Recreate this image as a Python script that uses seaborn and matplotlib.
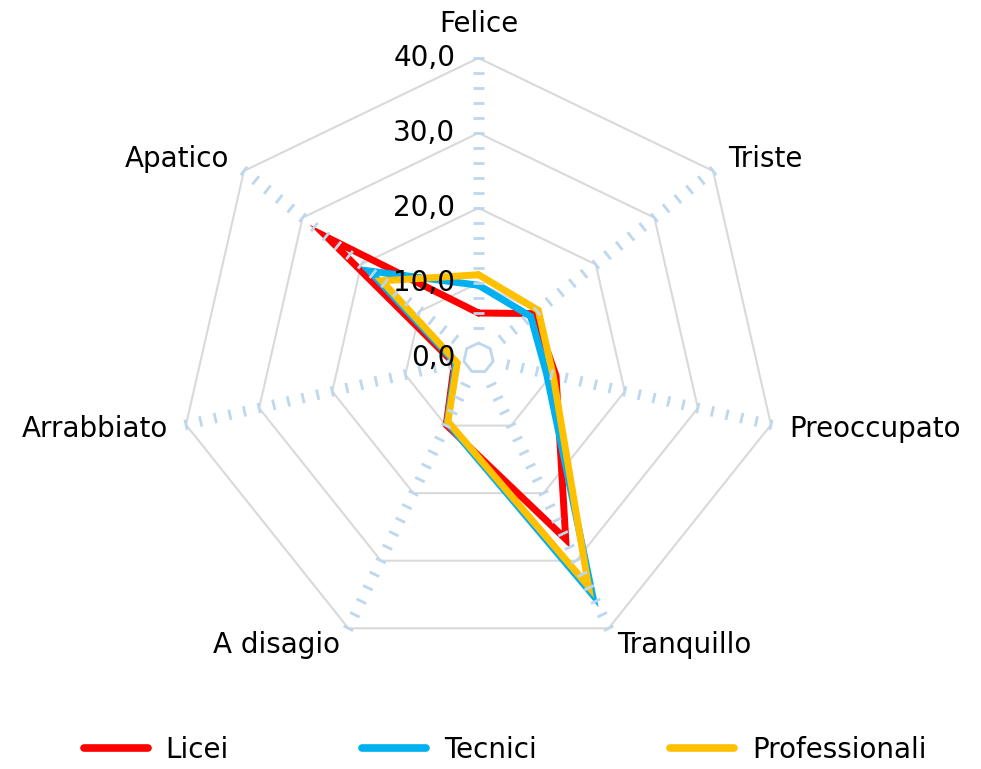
import numpy as np
import pandas as pd
import seaborn as sns
from matplotlib import pyplot as plt
from matplotlib.lines import Line2D

categories = ['Felice', 'Triste', 'Preoccupato', 'Tranquillo', 'A disagio', 'Arrabbiato', 'Apatico']
licei = [6.0, 9.5, 10.6, 26.8, 9.9, 3.3, 25.8]
tecnici = [9.7, 8.9, 9.3, 35.0, 9.6, 3.1, 18.6]
professionali = [11.1, 10.2, 10.2, 33.8, 9.4, 2.9, 16.5]
series_names = ['Licei', 'Tecnici', 'Professionali']
series_colors = ['#ff0000', '#00b0f0', '#ffc000']
major_ticks = [0, 10, 20, 30, 40]
tick_labels = ['0,0', '10,0', '20,0', '30,0', '40,0']

sns.set_style('white')
plt.rcParams['font.family'] = ['DejaVu Sans']
plt.rcParams['text.color'] = 'black'

n = len(categories)
theta = np.arange(n) * 2 * np.pi / n
ux, uy = np.sin(theta), np.cos(theta)

# tabella lunga per seaborn (poligono chiuso)
rows = []
for name, vals in zip(series_names, [licei, tecnici, professionali]):
    for k in list(range(n)) + [0]:
        rows.append({'serie': name, 'x': vals[k] * ux[k], 'y': vals[k] * uy[k]})
df = pd.DataFrame(rows)

fig = plt.figure(figsize=(9.81, 7.69), dpi=100)
ax = fig.add_axes([0, 0, 1, 1])
ppu = 7.5  # pixel per unita
cx, cy = 478.5, 358
ax.set_xlim(-cx / ppu, (981 - cx) / ppu)
ax.set_ylim(-(769 - cy) / ppu, cy / ppu)
ax.axis('off')

# griglia principale grigia
for r in major_ticks[1:]:
    ax.plot(np.append(r * ux, r * ux[0]), np.append(r * uy, r * uy[0]),
            color='#d9d9d9', lw=1.5, zorder=1)

sns.lineplot(data=df, x='x', y='y', hue='serie', palette=series_colors,
             hue_order=series_names, sort=False, estimator=None, lw=5,
             legend=False, ax=ax, zorder=3)
for ln in ax.get_lines():
    ln.set_solid_joinstyle('miter')

# griglia secondaria azzurra: piccolo ettagono a 2, poi tacche ogni 2 unita
ax.plot(np.append(2 * ux, 2 * ux[0]), np.append(2 * uy, 2 * uy[0]),
        color='#bdd7ee', lw=2, zorder=4)
h = 0.7
for r in np.arange(4, 41, 2):
    for k in range(n):
        ax.plot([r * ux[k] - h * uy[k], r * ux[k] + h * uy[k]],
                [r * uy[k] + h * ux[k], r * uy[k] - h * ux[k]],
                color='#bdd7ee', lw=2, solid_capstyle='butt', zorder=4)

# etichette valori
for v, lab in zip(major_ticks, tick_labels):
    ax.text(-3.1, v, lab, ha='right', va='center', fontsize=20, color='black', zorder=5)

# etichette categorie
for k, cat in enumerate(categories):
    r = 44.6 if k == 0 else 42.5
    if k == 0:
        ha = 'center'
    elif ux[k] > 0:
        ha = 'left'
    else:
        ha = 'right'
    ax.text(r * ux[k], r * uy[k], cat, ha=ha, va='center', fontsize=20, color='black')

handles = [Line2D([0], [0], color=c, lw=5.5, solid_capstyle='round') for c in series_colors]
fig.legend(handles, series_names, loc='center', bbox_to_anchor=(0.515, 0.025), ncol=3,
           frameon=False, fontsize=20, handlelength=2.3, handletextpad=0.65,
           columnspacing=4.8, labelcolor='black')

plt.savefig('out.png', dpi=100)
